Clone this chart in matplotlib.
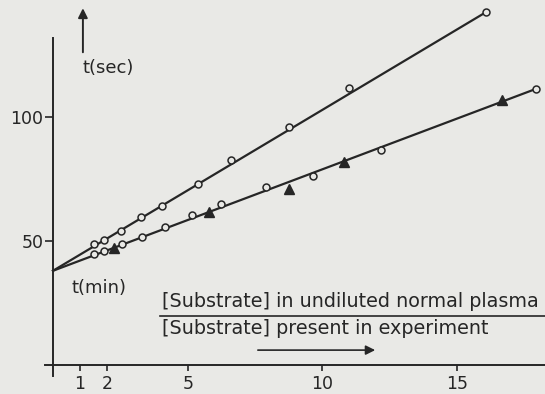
import numpy as np
import matplotlib.pyplot as plt

# values
upper_x = [1.53, 1.89, 2.51, 3.28, 4.04, 5.37, 6.6, 8.76, 10.98, 16.07]
upper_y = [48.7, 50.3, 54.2, 59.7, 64.2, 72.9, 82.7, 96.0, 111.7, 142.3]

lower_x = [1.53, 1.89, 2.55, 3.30, 4.17, 5.17, 6.25, 7.89, 9.64, 12.16, 17.91]
lower_y = [44.8, 46.0, 48.8, 51.7, 55.5, 60.6, 64.9, 71.7, 76.2, 86.6, 111.3]

tri_x = [2.26, 5.80, 8.77, 10.80, 16.67]
tri_y = [47.2, 61.8, 71.1, 81.7, 106.9]

# fitted lines (end points)
upper_fit_x = [0, 16.07]
upper_fit_y = [38, 142.3]
lower_fit_x = [0, 17.91]
lower_fit_y = [38, 111.3]

xticks = [1, 2, 5, 10, 15]
yticks = [50, 100]

paper = '#e9e9e6'
ink = '#262626'

fig = plt.figure(figsize=(5.45, 3.94), dpi=100, facecolor=paper)
ax = fig.add_axes([0, 0, 1, 1], facecolor=paper)
ax.set_xlim(-1.967, 18.26)
ax.set_ylim(-11.7, 147.2)

for s in ['top', 'right']:
    ax.spines[s].set_visible(False)
ax.spines['left'].set_position(('data', 0))
ax.spines['bottom'].set_position(('data', 0))
ax.spines['left'].set_bounds(-4.5, 132)
ax.spines['bottom'].set_bounds(-0.3, 18.3)
for s in ['left', 'bottom']:
    ax.spines[s].set_color(ink)
    ax.spines[s].set_linewidth(1.4)

ax.set_xticks(xticks)
ax.set_yticks(yticks)
ax.tick_params(axis='x', direction='out', length=4.5, width=1.2, pad=3,
               labelsize=12.5, colors=ink)
ax.tick_params(axis='y', direction='out', length=6, width=1.2, pad=1,
               labelsize=12.5, colors=ink)

ax.plot(upper_fit_x, upper_fit_y, color=ink, lw=1.6, zorder=2)
ax.plot(lower_fit_x, lower_fit_y, color=ink, lw=1.6, zorder=2)
ax.plot(upper_x, upper_y, 'o', ms=5, mfc=paper, mec=ink, mew=1.1, zorder=3)
ax.plot(lower_x, lower_y, 'o', ms=5, mfc=paper, mec=ink, mew=1.1, zorder=3)
ax.plot(tri_x, tri_y, '^', ms=6.5, color=ink, zorder=3)

# axis arrow and labels
ax.annotate('', xy=(1.11, 145), xytext=(1.11, 125),
            arrowprops=dict(arrowstyle='-|>', color=ink, lw=1.4,
                            mutation_scale=14))
ax.text(1.08, 119.8, 't(sec)', fontsize=13, color=ink, va='center', ha='left')
ax.text(0.7, 31, 't(min)', fontsize=13, color=ink, va='center', ha='left')

ax.text(4.04, 25.6, '[Substrate] in undiluted normal plasma', fontsize=13.8,
        color=ink, va='center', ha='left')
ax.plot([3.97, 18.26], [19.8, 19.8], color=ink, lw=1.2)
ax.text(4.04, 14.7, '[Substrate] present in experiment', fontsize=13.8,
        color=ink, va='center', ha='left')
ax.annotate('', xy=(12.06, 6.0), xytext=(7.5, 6.0),
            arrowprops=dict(arrowstyle='-|>', color=ink, lw=1.2,
                            mutation_scale=14))

fig.savefig('out.png', dpi=100, facecolor=paper)
